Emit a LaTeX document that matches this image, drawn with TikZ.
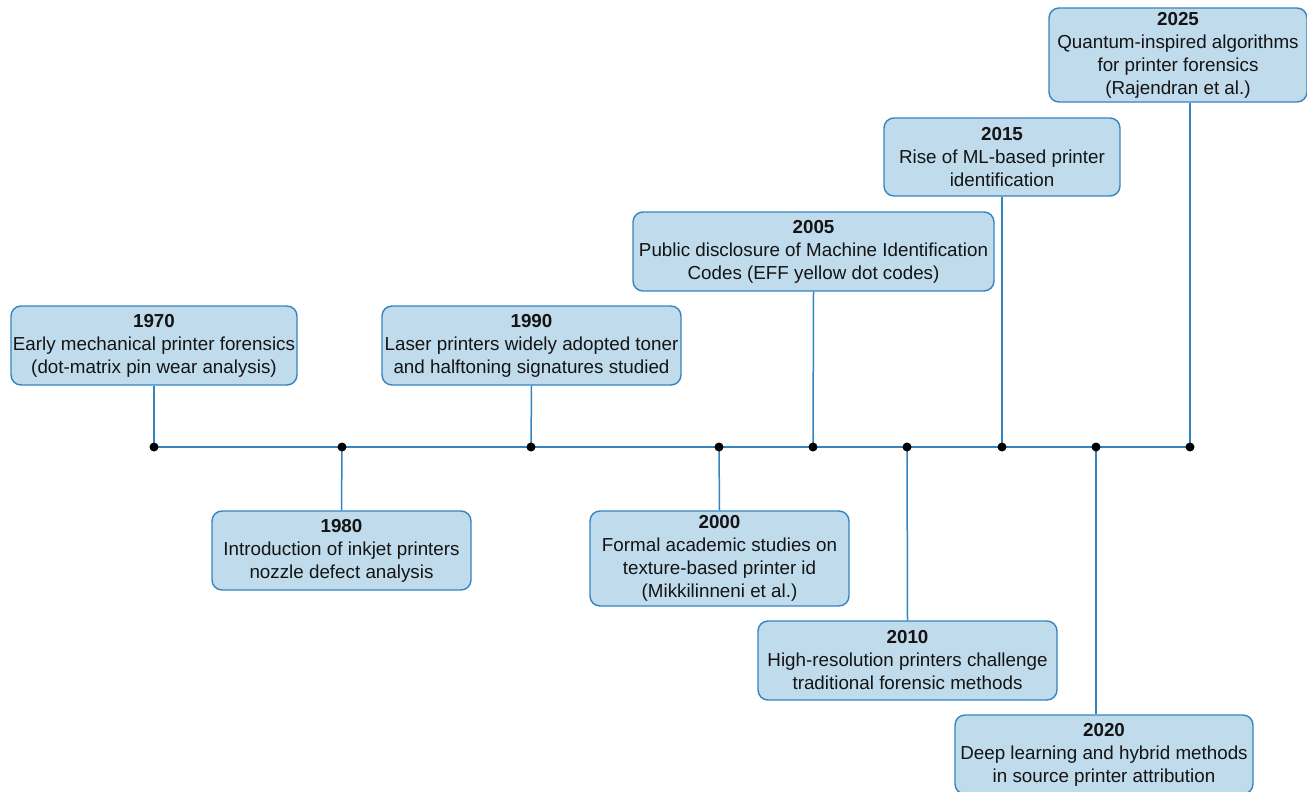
\documentclass[tikz,border=0pt]{standalone}
\usepackage{fontspec}
\setmainfont{Liberation Sans}
\definecolor{boxfill}{RGB}{192,219,236}
\definecolor{boxline}{RGB}{52,132,192}
\definecolor{txt}{RGB}{20,20,20}
\begin{document}
\begin{tikzpicture}[x=1pt,y=-1pt,
  evbox/.style={draw=boxline,fill=boxfill,line width=1.4pt,rounded corners=10pt,
    align=center,inner sep=0pt,text=txt,font=\fontsize{18.8}{23}\selectfont},
  link/.style={draw=boxline,line width=1.5pt},
  dotc/.style={circle,fill=black,inner sep=0pt,minimum size=9pt}]
\useasboundingbox (0,0) rectangle (1307,792);
% dots
\foreach \n/\x in {d1970/154,d1980/342,d1990/531,d2000/719,d2005/813,d2010/907,d2015/1002,d2020/1096,d2025/1190}
  \coordinate (\n) at (\x,447);
\draw[link] (d1970) -- (d2025);
% boxes
\node[evbox,minimum width=286pt,minimum height=79pt] (b1970) at (154,345.5) {\textbf{1970}\\Early mechanical printer forensics\\(dot-matrix pin wear analysis)};
\node[evbox,minimum width=259pt,minimum height=79pt] (b1980) at (341.5,550.5) {\textbf{1980}\\Introduction of inkjet printers\\nozzle defect analysis};
\node[evbox,minimum width=299pt,minimum height=79pt] (b1990) at (531.5,345.5) {\textbf{1990}\\Laser printers widely adopted toner\\and halftoning signatures studied};
\node[evbox,minimum width=259pt,minimum height=95pt] (b2000) at (719.5,558.5) {\textbf{2000}\\Formal academic studies on\\texture-based printer id\\(Mikkilinneni et al.)};
\node[evbox,minimum width=361pt,minimum height=79pt] (b2005) at (813.5,251.5) {\textbf{2005}\\Public disclosure of Machine Identification\\Codes (EFF yellow dot codes)};
\node[evbox,minimum width=299pt,minimum height=79pt] (b2010) at (907.5,660.5) {\textbf{2010}\\High-resolution printers challenge\\traditional forensic methods};
\node[evbox,minimum width=236pt,minimum height=78pt] (b2015) at (1002,157) {\textbf{2015}\\Rise of ML-based printer\\identification};
\node[evbox,minimum width=298pt,minimum height=79pt] (b2020) at (1104,754.5) {\textbf{2020}\\Deep learning and hybrid methods\\in source printer attribution};
\node[evbox,minimum width=258pt,minimum height=94pt] (b2025) at (1178,55) {\textbf{2025}\\Quantum-inspired algorithms\\for printer forensics\\(Rajendran et al.)};
% connectors
\draw[link] (b1970.south) -- (d1970);
\draw[link] (b1980.north) -- (d1980);
\draw[link] (b1990.south) -- (d1990);
\draw[link] (b2000.north) -- (d2000);
\draw[link] (b2005.south) -- (d2005);
\draw[link] (b2010.north) -- (d2010);
\draw[link] (b2015.south) -- (d2015);
\draw[link] (d2020 |- b2020.north) -- (d2020);
\draw[link] (d2025 |- b2025.south) -- (d2025);
\foreach \n in {d1970,d1980,d1990,d2000,d2005,d2010,d2015,d2020,d2025}
  \node[dotc] at (\n) {};
\end{tikzpicture}
\end{document}
